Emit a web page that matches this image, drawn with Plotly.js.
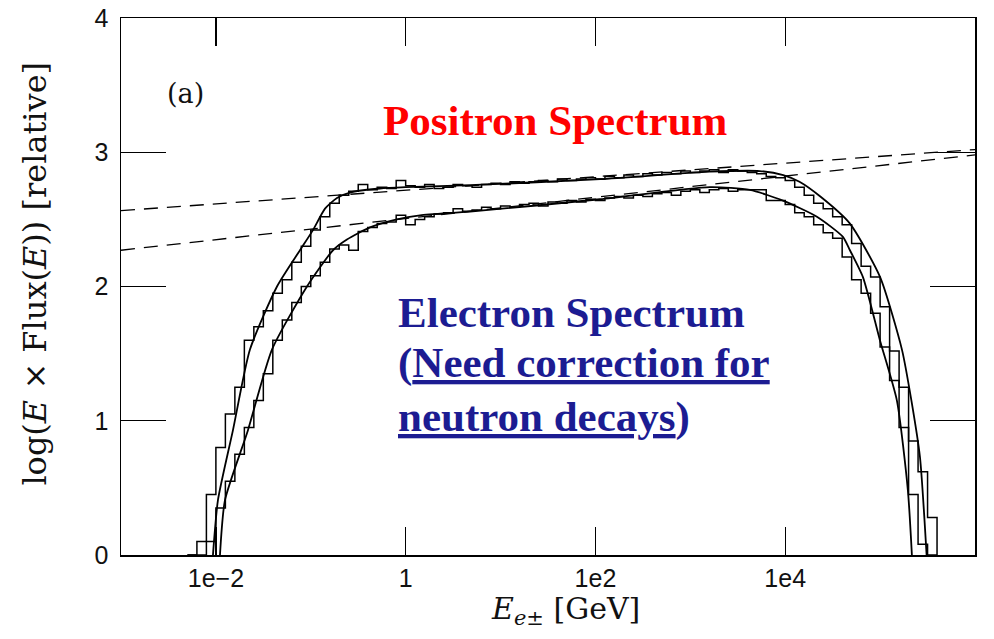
<!DOCTYPE html>
<html>
<head>
<meta charset="utf-8">
<script src="https://cdn.plot.ly/plotly-3.0.1.min.js"></script>
<style>html,body{margin:0;padding:0;background:#fff;}#chart{width:994px;height:639px;}</style>
</head>
<body>
<div id="chart"></div>
<script>
// ---- data (log10 of energy in GeV, and log(E x Flux) values) ----
const xTickVals = [1e-2, 1, 1e2, 1e4, 1e6];
const xTickText = ['1e\u22122', '1', '1e2', '1e4', '1e6'];
const yTickVals = [0, 1, 2, 3, 4];

// smooth model curves
const posSmoothLogE = [-2.031, -1.978, -1.82, -1.641, -1.356, -1.114, -0.977, -0.85, -0.724, -0.587, -0.271, 0, 0.68, 2.05, 3.2, 3.73, 3.98, 4.15, 4.37, 4.68, 5.0, 5.23, 5.33, 5.42, 5.49];
const posSmoothVal  = [0, 0.41, 0.93, 1.53, 2.0, 2.27, 2.42, 2.58, 2.66, 2.70, 2.73, 2.74, 2.755, 2.80, 2.855, 2.86, 2.83, 2.78, 2.67, 2.47, 2.07, 1.53, 1.15, 0.73, 0];

const eleSmoothLogE = [-1.957, -1.904, -1.662, -1.409, -1.04, -0.766, -0.619, -0.376, -0.092, 0.151, 0.678, 2.047, 3.207, 3.628, 3.976, 4.334, 4.608, 4.682, 4.819, 4.998, 5.177, 5.293, 5.335];
const eleSmoothVal  = [0, 0.41, 0.93, 1.53, 2.0, 2.27, 2.35, 2.44, 2.50, 2.53, 2.557, 2.65, 2.74, 2.72, 2.64, 2.52, 2.37, 2.27, 2.07, 1.6, 1.15, 0.48, 0];

// histogram bin left edges (log10 E)
const histEdges = [-2.3,-2.2,-2.1,-2.0,-1.9,-1.8,-1.7,-1.6,-1.5,-1.4,-1.3,-1.2,-1.1,-1.0,-0.9,-0.8,-0.7,-0.6,-0.5,-0.4,-0.3,-0.2,-0.1,0.0,0.1,0.2,0.3,0.4,0.5,0.6,0.7,0.8,0.9,1.0,1.1,1.2,1.3,1.4,1.5,1.6,1.7,1.8,1.9,2.0,2.1,2.2,2.3,2.4,2.5,2.6,2.7,2.8,2.9,3.0,3.1,3.2,3.3,3.4,3.5,3.6,3.7,3.8,3.9,4.0,4.1,4.2,4.3,4.4,4.5,4.6,4.7,4.8,4.9,5.0,5.1,5.2,5.3,5.4,5.5,5.6];
const posHist = [0,0.1,0.45,0.8,1.05,1.25,1.6,1.7,1.82,1.95,2.05,2.18,2.3,2.42,2.52,2.62,2.68,2.71,2.76,2.72,2.74,2.73,2.79,2.75,2.74,2.76,2.73,2.74,2.76,2.75,2.74,2.76,2.77,2.76,2.78,2.77,2.78,2.79,2.78,2.80,2.79,2.80,2.81,2.80,2.82,2.81,2.83,2.82,2.84,2.83,2.85,2.84,2.86,2.85,2.86,2.87,2.85,2.87,2.86,2.85,2.84,2.82,2.81,2.79,2.74,2.68,2.62,2.58,2.52,2.46,2.32,2.15,2.07,1.85,1.52,1.25,0.85,0.62,0.28,0];
const eleHist = [0,0,0.1,0.35,0.55,0.75,0.95,1.15,1.35,1.6,1.75,1.88,2.0,2.08,2.18,2.28,2.31,2.27,2.41,2.44,2.47,2.48,2.53,2.46,2.50,2.52,2.54,2.55,2.58,2.56,2.57,2.59,2.58,2.60,2.59,2.61,2.62,2.60,2.63,2.62,2.64,2.63,2.65,2.64,2.66,2.67,2.66,2.68,2.67,2.69,2.70,2.68,2.71,2.72,2.70,2.72,2.73,2.71,2.72,2.72,2.72,2.64,2.64,2.61,2.55,2.52,2.46,2.40,2.36,2.22,2.05,1.95,1.80,1.55,1.30,0.95,0.45,0.08,0,0];

// dashed reference lines
const dashLogE = [-3, 6];
const dashUpper = [2.565, 3.02];
const dashLower = [2.27, 2.98];

const toE = a => a.map(v => Math.pow(10, v));

const blk = '#000';
const traces = [
  {x: toE(dashLogE), y: dashUpper, mode: 'lines', line: {color: blk, width: 1.3, dash: '14px,9px'}},
  {x: toE(dashLogE), y: dashLower, mode: 'lines', line: {color: blk, width: 1.3, dash: '14px,9px'}},
  {x: toE(histEdges), y: posHist, mode: 'lines', line: {color: blk, width: 1.5, shape: 'hv'}},
  {x: toE(histEdges), y: eleHist, mode: 'lines', line: {color: blk, width: 1.5, shape: 'hv'}},
  {x: toE(posSmoothLogE), y: posSmoothVal, mode: 'lines', line: {color: blk, width: 1.8, shape: 'spline', smoothing: 0.6}},
  {x: toE(eleSmoothLogE), y: eleSmoothVal, mode: 'lines', line: {color: blk, width: 1.8, shape: 'spline', smoothing: 0.6}}
];

const serif = 'DejaVu Serif, serif';
const tserif = 'Liberation Serif, Times New Roman, serif';
const blue = '#1c1c92';
const layout = {
  width: 994, height: 639,
  margin: {l: 121, r: 19, t: 18, b: 84},
  paper_bgcolor: '#fff', plot_bgcolor: '#fff',
  showlegend: false,
  xaxis: {
    type: 'log', range: [-3, 6],
    tickvals: xTickVals, ticktext: xTickText,
    ticks: 'inside', ticklen: 28, tickwidth: 1.3, tickcolor: blk,
    showline: true, linecolor: blk, linewidth: 1.5, mirror: 'allticks',
    showgrid: false, zeroline: false,
    tickfont: {family: 'Liberation Sans, Arial, sans-serif', size: 25, color: '#111'}
  },
  yaxis: {
    range: [0, 4],
    tickvals: yTickVals,
    ticks: 'inside', ticklen: 45, tickwidth: 1.3, tickcolor: blk,
    showline: true, linecolor: blk, linewidth: 1.5, mirror: 'allticks',
    showgrid: false, zeroline: false,
    ticklabelstandoff: 6,
    tickfont: {family: 'Liberation Sans, Arial, sans-serif', size: 25, color: '#111'}
  },
  annotations: [
    {xref: 'paper', yref: 'paper', x: -0.1007, y: 0.524, textangle: -90, showarrow: false,
     xanchor: 'center', yanchor: 'middle',
     text: 'log(<i>E</i> \u00d7 Flux(<i>E</i>)) [relative]', font: {family: serif, size: 32, color: '#111'}},
    {xref: 'paper', yref: 'paper', x: 0.52, y: -0.103, showarrow: false,
     xanchor: 'center', yanchor: 'middle',
     text: '<i>E</i><sub><i>e</i>\u00b1</sub> [GeV]', font: {family: serif, size: 30, color: '#111'}},
    {xref: 'paper', yref: 'paper', x: 0.075, y: 0.86, showarrow: false,
     xanchor: 'center', yanchor: 'middle',
     text: '(a)', font: {family: serif, size: 27, color: '#111'}},
    {xref: 'paper', yref: 'paper', x: 0.305, y: 0.81, showarrow: false,
     xanchor: 'left', yanchor: 'middle',
     text: 'Positron Spectrum', font: {family: tserif, size: 43, weight: 'bold', color: '#ff0000'}},
    {xref: 'paper', yref: 'paper', x: 0.322, y: 0.4525, showarrow: false,
     xanchor: 'left', yanchor: 'middle',
     text: 'Electron Spectrum', font: {family: tserif, size: 43, weight: 'bold', color: blue}},
    {xref: 'paper', yref: 'paper', x: 0.322, y: 0.3575, showarrow: false,
     xanchor: 'left', yanchor: 'middle',
     text: '(<u>Need correction for</u>', font: {family: tserif, size: 43, weight: 'bold', color: blue}},
    {xref: 'paper', yref: 'paper', x: 0.322, y: 0.257, showarrow: false,
     xanchor: 'left', yanchor: 'middle',
     text: '<u>neutron decays</u>)', font: {family: tserif, size: 43, weight: 'bold', color: blue}}
  ]
};

Plotly.newPlot('chart', traces, layout, {displayModeBar: false, staticPlot: true});
</script>
</body>
</html>
